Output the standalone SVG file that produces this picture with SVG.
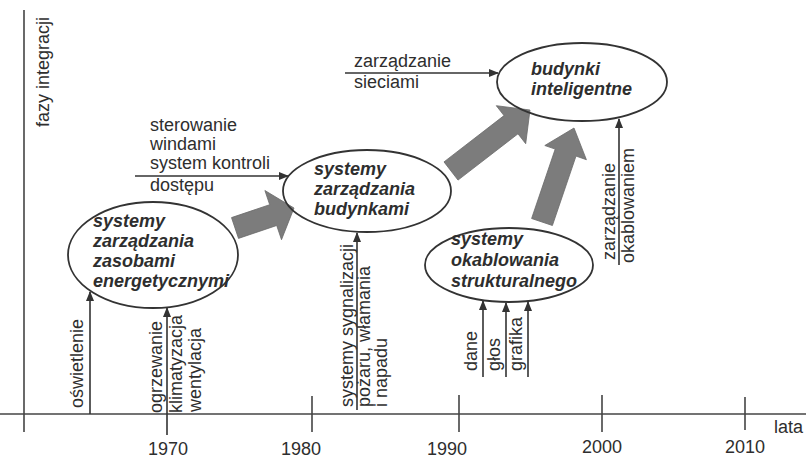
<svg xmlns="http://www.w3.org/2000/svg" width="806" height="458" viewBox="0 0 806 458">
<defs>
<marker id="ah" markerWidth="10" markerHeight="8" refX="9" refY="4" orient="auto" markerUnits="userSpaceOnUse"><path d="M0,0 L10,4 L0,8 z" fill="#333"/></marker>
<style>
.t{font-family:"Liberation Sans",Arial,sans-serif;font-size:18px;fill:#2e2e2e}
.n{font-family:"Liberation Sans",Arial,sans-serif;font-size:18px;font-weight:bold;font-style:italic;fill:#2e2e2e}
.e{fill:none;stroke:#333;stroke-width:1.8}
.ax{stroke:#444;stroke-width:1.6;fill:none}
.c{stroke:#333;stroke-width:1.6;fill:none;marker-end:url(#ah)}
.big{fill:#7c7c7c;stroke:#6a6a6a;stroke-width:0.8}
</style>
</defs>
<rect width="806" height="458" fill="#fff"/>
<g id="axes">
<line class="ax" x1="24" y1="10" x2="24" y2="432"/>
<line class="ax" x1="0" y1="414" x2="806" y2="414"/>
<line class="ax" x1="312" y1="396" x2="312" y2="432"/>
<line class="ax" x1="459" y1="395" x2="459" y2="432"/>
<line class="ax" x1="602" y1="395" x2="602" y2="432"/>
<line class="ax" x1="745" y1="397" x2="745" y2="430"/>
<text class="t" transform="translate(49,127) rotate(-90)">fazy integracji</text>
<text class="t" x="168" y="455" text-anchor="middle">1970</text>
<text class="t" x="301" y="455" text-anchor="middle">1980</text>
<text class="t" x="447" y="455" text-anchor="middle">1990</text>
<text class="t" x="602" y="453" text-anchor="middle">2000</text>
<text class="t" x="745" y="453" text-anchor="middle">2010</text>
<text class="t" x="774" y="433">lata</text>
</g>
<g id="connectors">
<polygon class="big" points="231.5,217.6 269.7,204.7 264.9,190.5 294,208 281.5,239.7 276.7,225.5 238.5,238.4"/>
<polygon class="big" points="444,161.9 504,115.6 496.3,105.7 530,110 525.7,143.7 518,133.8 458,180.1"/>
<polygon class="big" points="531.6,218.5 555.2,149.1 544.8,145.5 574,128 586.4,159.7 576,156.1 552.4,225.5"/>
<line class="c" x1="135" y1="176" x2="288" y2="176"/>
<line class="c" x1="345" y1="73" x2="498" y2="73"/>
<line class="c" x1="90" y1="414" x2="90" y2="292"/>
<line class="c" x1="167" y1="435" x2="167" y2="308"/>
<line class="c" x1="357" y1="410" x2="357" y2="233"/>
<line class="c" x1="619" y1="265" x2="619" y2="119"/>
<line class="c" x1="483" y1="377" x2="483" y2="301"/>
<line class="c" x1="506" y1="377" x2="506" y2="303"/>
<line class="c" x1="528" y1="377" x2="528" y2="302"/>
</g>
<g id="labels">
<text class="t" x="150" y="131">sterowanie</text>
<text class="t" x="150" y="150">windami</text>
<text class="t" x="150" y="169">system kontroli</text>
<text class="t" x="150" y="191">dostępu</text>
<text class="t" x="354" y="67">zarządzanie</text>
<text class="t" x="354" y="88">sieciami</text>
<text class="t" transform="translate(83,408) rotate(-90)">oświetlenie</text>
<text class="t" transform="translate(162,413) rotate(-90)">ogrzewanie</text>
<text class="t" transform="translate(182,413) rotate(-90)">klimatyzacja</text>
<text class="t" transform="translate(201,412) rotate(-90)">wentylacja</text>
<text class="t" transform="translate(353,407) rotate(-90)">systemy sygnalizacji</text>
<text class="t" transform="translate(370,407) rotate(-90)">pożaru, włamania</text>
<text class="t" transform="translate(387,407) rotate(-90)">i napadu</text>
<text class="t" transform="translate(615,260) rotate(-90)">zarządzanie</text>
<text class="t" transform="translate(634,263) rotate(-90)">okablowaniem</text>
<text class="t" transform="translate(477,371) rotate(-90)">dane</text>
<text class="t" transform="translate(500,371) rotate(-90)">głos</text>
<text class="t" transform="translate(522,371) rotate(-90)">grafika</text>
</g>
<g id="node-zasoby">
<ellipse class="e" cx="153" cy="255" rx="85" ry="53"/>
<text class="n" x="93" y="227">systemy</text>
<text class="n" x="93" y="247">zarządzania</text>
<text class="n" x="93" y="267">zasobami</text>
<text class="n" x="93" y="287">energetycznymi</text>
</g>
<g id="node-budynki">
<ellipse class="e" cx="367" cy="191" rx="84" ry="41"/>
<text class="n" x="314" y="175">systemy</text>
<text class="n" x="314" y="195">zarządzania</text>
<text class="n" x="314" y="215">budynkami</text>
</g>
<g id="node-inteligentne">
<ellipse class="e" cx="582" cy="82" rx="85" ry="39"/>
<text class="n" x="531" y="75">budynki</text>
<text class="n" x="531" y="95">inteligentne</text>
</g>
<g id="node-okablowanie">
<ellipse class="e" cx="509" cy="265" rx="84" ry="37"/>
<text class="n" x="451" y="245">systemy</text>
<text class="n" x="451" y="266">okablowania</text>
<text class="n" x="451" y="287">strukturalnego</text>
</g>
</svg>
